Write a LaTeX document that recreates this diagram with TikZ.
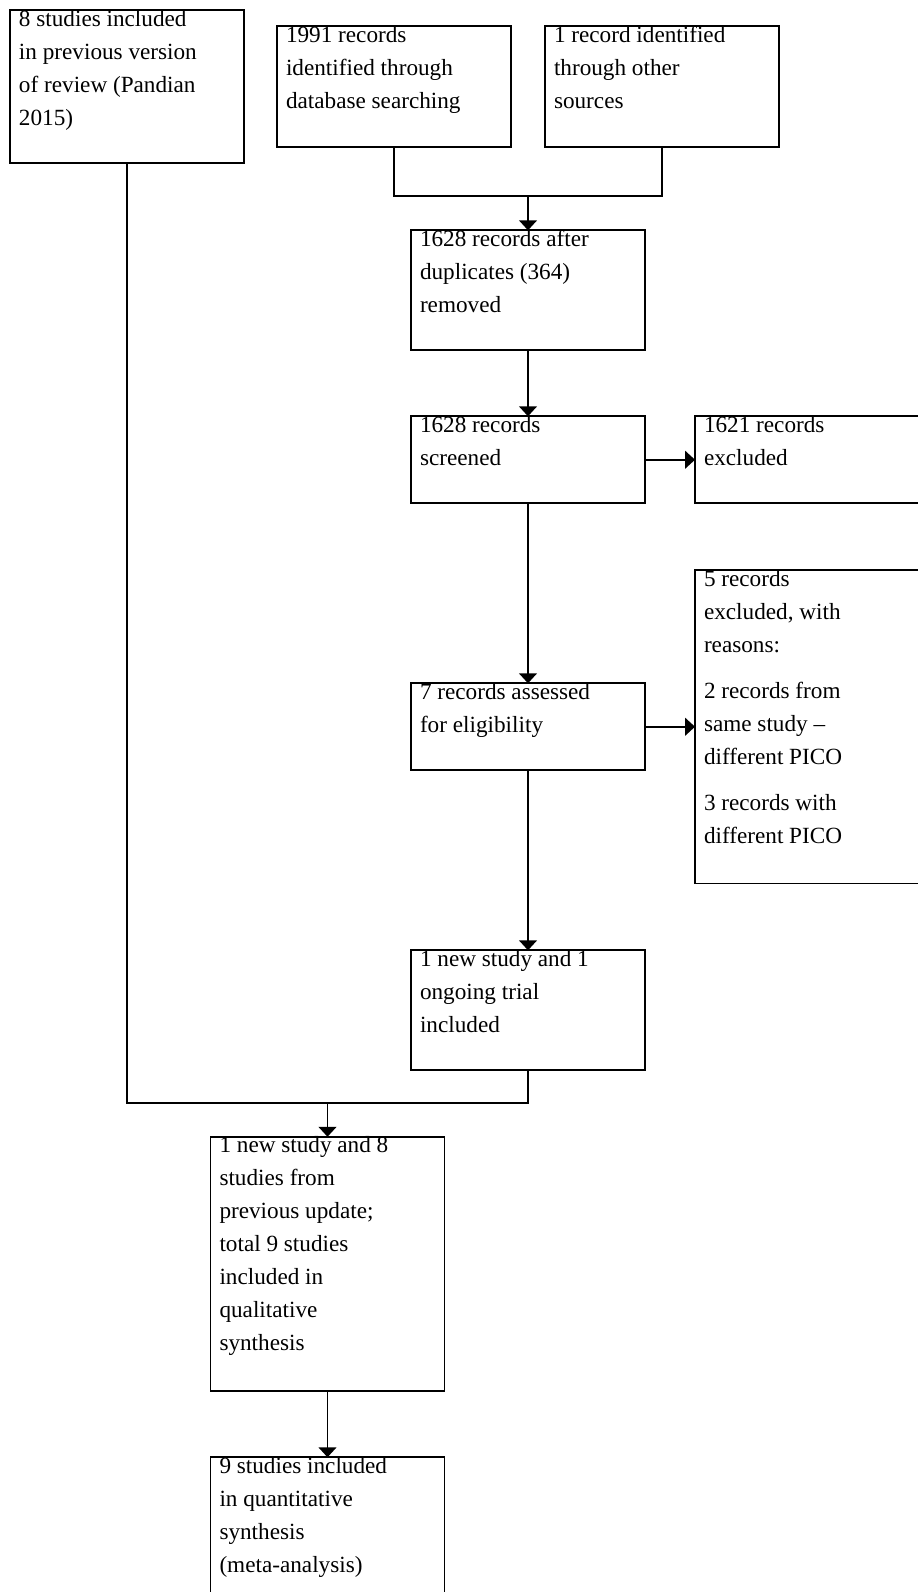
\documentclass[tikz,border=0pt]{standalone}
\usepackage{fontspec}
\setmainfont{Liberation Serif}
\usetikzlibrary{positioning,calc,arrows.meta}

\begin{document}
\begin{tikzpicture}[
        stagebox/.style={draw, rectangle, line width=0.8pt, outer sep=0pt, text width=108pt, align=flush left, inner xsep=4.5pt, inner ysep=0pt, text height=8pt, text depth=#1, font=\fontsize{11.6pt}{16.5pt}\selectfont},
        flow/.style={line width=0.8pt, -{Triangle[width=9pt,length=5pt]}},
        link/.style={line width=0.8pt}]
            \useasboundingbox (-5pt,5pt) rectangle (453.5pt,-791pt);
            \node[stagebox=68.5pt, anchor=north west](prev-review) at (0,0){8 studies included\\in previous version\\of review (Pandian\\2015)};
            \node[stagebox=52.25pt, right=16.5pt of prev-review](records-db){1991 records\\identified through\\database searching};
            \node[stagebox=52.25pt, right=17pt of records-db](records-other){1 record identified\\through other\\sources};
            \path ($(records-db.south)!0.5!(records-other.south)$) ++(0,-24.75pt) coordinate (merge-top);
            \draw[link](records-db.south) |- (merge-top) -| (records-other.south);

            \node[stagebox=52pt, below=17pt of merge-top](records-dedup){1628 records after\\duplicates (364)\\removed};
            \draw[flow](merge-top)--(records-dedup.north);
            \node[stagebox=35.5pt, below=33pt of records-dedup](records-screened){1628 records\\screened};
            \draw[flow](records-dedup)--(records-screened);
            \node[stagebox=35.5pt, right=25pt of records-screened](records-excluded){1621 records\\excluded};
            \draw[flow](records-screened)--(records-excluded);

            \node[stagebox=35.5pt, below=90pt of records-screened](records-assessed){7 records assessed\\for eligibility};
            \draw[flow](records-screened)--(records-assessed);
            \node[stagebox=148.75pt, right=25pt of records-assessed](records-reasons){5 records\\excluded, with\\reasons:\\[6.5pt]2 records from\\same study --\\different PICO\\[6.5pt]3 records with\\different PICO};
            \draw[flow](records-assessed)--(records-reasons);

            \node[stagebox=52pt, below=90pt of records-assessed](study-new){1 new study and 1\\ongoing trial\\included};
            \draw[flow](records-assessed)--(study-new);

            \path (study-new.south) ++(0,-16.25pt) coordinate (merge-right);
            \path (prev-review.south |- merge-right) coordinate (merge-left);
            \coordinate (merge-bottom) at ($(merge-left)!0.5!(merge-right)$);
            \draw[link](prev-review.south) |- (merge-bottom) -| (study-new.south);

            \node[stagebox=119pt, below=17pt of merge-bottom](synth-qual){1 new study and 8\\studies from\\previous update;\\total 9 studies\\included in\\qualitative\\synthesis};
            \draw[flow](merge-bottom)--(synth-qual.north);
            \node[stagebox=72pt, below=33.25pt of synth-qual](synth-quant){9 studies included\\in quantitative\\synthesis\\(meta-analysis)};
            \draw[flow](synth-qual)--(synth-quant);
        \end{tikzpicture}
\end{document}
